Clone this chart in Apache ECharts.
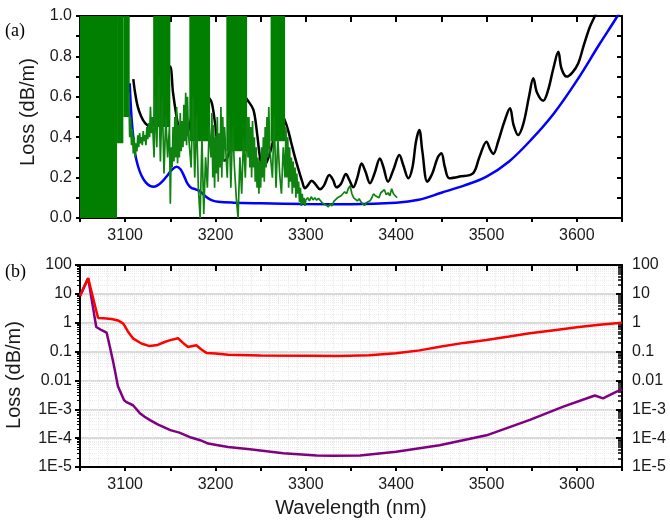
<!DOCTYPE html>
<html>
<head>
<meta charset="utf-8">
<script src="https://cdn.jsdelivr.net/npm/echarts@6/dist/echarts.min.js"></script>
<style>
html,body{margin:0;padding:0;background:#fff;}
#chart{width:670px;height:523px;}
</style>
</head>
<body>
<div id="chart"></div>
<script>
// ---------- DATA ----------
// Panel (a): linear loss (dB/m) vs wavelength (nm)
var blackSim = [[3109,0.688],[3111,0.62],[3114,0.55],[3118,0.5],[3122,0.47],[3126,0.455],[3129,0.452],[3133,0.5],[3138,0.6],[3144,0.7],[3149.6,0.75],[3153,0.62],[3157,0.5],[3161,0.42],[3165,0.405],[3168,0.41],[3172,0.47],[3175.4,0.568],[3180,0.63],[3186,0.62],[3192,0.6],[3196,0.568],[3200,0.45],[3203,0.34],[3206,0.295],[3210,0.285],[3215,0.32],[3220,0.42],[3226,0.55],[3232,0.6],[3236,0.58],[3242,0.535],[3246,0.42],[3250,0.28],[3253,0.26],[3257,0.28],[3262,0.35],[3267,0.45],[3271,0.51],[3275,0.5],[3280,0.44],[3284,0.37],[3288,0.3],[3292,0.238],[3296,0.18],[3299,0.147],[3302,0.16],[3306.5,0.185],[3311,0.165],[3315.7,0.142],[3320,0.16],[3326,0.213],[3330,0.19],[3334,0.152],[3339,0.17],[3344.4,0.218],[3348,0.19],[3352.5,0.152],[3357,0.2],[3361.8,0.27],[3366,0.23],[3371,0.172],[3376,0.22],[3382,0.295],[3386,0.25],[3391,0.18],[3397,0.24],[3403.5,0.312],[3408,0.26],[3413.4,0.197],[3418,0.25],[3422,0.38],[3425.6,0.436],[3429,0.33],[3434.5,0.18],[3440,0.22],[3446,0.3],[3450,0.32],[3454,0.25],[3458.8,0.197],[3470,0.205],[3485,0.221],[3492,0.3],[3500,0.378],[3504,0.34],[3507.5,0.317],[3513,0.38],[3520,0.48],[3526,0.543],[3530,0.46],[3535,0.411],[3541,0.47],[3547,0.6],[3551.8,0.692],[3556,0.62],[3562.8,0.581],[3568,0.63],[3574,0.74],[3579.5,0.823],[3583,0.74],[3588.7,0.7],[3595,0.72],[3601.6,0.766],[3608,0.86],[3614.5,0.947],[3620,1.0],[3625,1.05]];

var blueSim = [[3105,0.667],[3107,0.5],[3109,0.4],[3111,0.32],[3114,0.26],[3118,0.21],[3123,0.175],[3128,0.158],[3132,0.155],[3137,0.165],[3142,0.185],[3147,0.212],[3152,0.24],[3157,0.254],[3161,0.243],[3165,0.21],[3169,0.17],[3173,0.15],[3178,0.142],[3182,0.135],[3187,0.115],[3192,0.097],[3197,0.086],[3203,0.08],[3220,0.076],[3250,0.073],[3300,0.069],[3350,0.068],[3400,0.075],[3425,0.09],[3450,0.125],[3475,0.16],[3500,0.205],[3525,0.28],[3550,0.39],[3575,0.52],[3600,0.68],[3625,0.86],[3645,1.0],[3655,1.08]];

// saturated (oscillating 0..1) regions of the measured trace: [start, end, low, high]
var measuredBands = [[3050,3091,0,1],[3091,3098,0.37,1],[3098,3105,0.5,1],[3131,3150,0.45,1],[3171,3194,0.38,1],[3212,3235,0.33,1],[3261,3277,0.38,1]];

var measured = [[3104,0.62],[3105,0.4],[3106,0.5],[3107,0.36],[3108,0.44],[3109,0.32],[3110,0.4],[3111,0.3],[3112,0.37],[3113,0.33],[3114,0.41],[3115,0.35],[3116,0.42],[3117,0.37],[3118,0.4],[3119,0.36],[3120,0.43],[3121,0.38],[3122,0.41],[3123,0.36],[3124,0.45],[3125,0.39],[3126,0.47],[3127,0.4],[3128,0.55],[3129,0.42],[3130,0.5],
[3132,0.3],[3133,0.6],[3135,0.35],[3137,0.7],[3139,0.28],[3141,0.6],[3143,0.22],[3145,0.5],[3147,0.3],[3149,0.45],[3150,0.07],
[3151,0.35],[3152,0.25],[3153,0.45],[3154,0.28],[3155,0.5],[3156,0.3],[3157,0.55],[3158,0.27],[3159,0.46],[3160,0.3],[3161,0.52],[3162,0.33],[3163,0.48],[3164,0.35],[3165,0.56],[3166,0.38],[3167,0.62],[3168,0.36],[3169,0.6],[3170,0.42],
[3173,0.25],[3175,0.6],[3177,0.2],[3179,0.5],[3181,0.15],[3183,0.0],[3185,0.4],[3187,0.02],[3189,0.3],[3191,0.15],[3193,0.45],
[3195,0.3],[3196,0.52],[3197,0.2],[3198,0.46],[3199,0.15],[3200,0.4],[3201,0.22],[3202,0.5],[3203,0.18],[3204,0.42],[3205,0.25],[3206,0.55],[3207,0.2],[3208,0.5],[3209,0.28],[3210,0.45],
[3213,0.2],[3215,0.5],[3217,0.15],[3219,0.45],[3221,0.25],[3223,0.1],[3225,0.0],[3227,0.3],[3229,0.12],[3231,0.4],[3233,0.2],[3235,0.5],
[3236,0.3],[3237,0.5],[3238,0.25],[3239,0.45],[3240,0.2],[3241,0.48],[3242,0.25],[3243,0.4],[3244,0.18],[3245,0.35],[3246,0.15],[3247,0.3],[3248,0.12],[3249,0.28],[3250,0.15],[3251,0.35],[3252,0.2],[3253,0.4],[3254,0.18],[3255,0.45],[3256,0.25],[3257,0.5],[3258,0.3],[3259,0.55],[3260,0.35],
[3263,0.2],[3265,0.5],[3267,0.15],[3269,0.4],[3271,0.22],[3273,0.12],[3275,0.35],[3277,0.2],
[3278,0.45],[3279,0.2],[3280,0.4],[3281,0.15],[3282,0.35],[3283,0.18],[3284,0.3],[3285,0.12],[3286,0.28],[3287,0.15],[3288,0.25],[3289,0.1],[3290,0.22],[3291,0.12],[3292,0.18],[3293,0.08],[3294,0.15],[3295,0.06],[3296,0.12],[3297,0.07],[3298,0.1],[3299,0.06],[3300,0.09],
[3302,0.1],[3304,0.085],[3306,0.105],[3308,0.09],[3310,0.1],[3312,0.088],[3314,0.098],[3316,0.09],[3318,0.075],[3320,0.082],[3322,0.065],[3325,0.055],[3327,0.07],[3329,0.06],[3331,0.082],[3333,0.078],[3335,0.1],[3337,0.095],[3339,0.11],[3341,0.105],[3343,0.13],[3345,0.12],[3347,0.145],[3349,0.16],[3351,0.12],[3353,0.1],[3355,0.105],[3357,0.085],[3359,0.095],[3361,0.08],[3363,0.085],[3365,0.062],[3367,0.075],[3369,0.068],[3371,0.085],[3373,0.1],[3375,0.12],[3377,0.11],[3379,0.115],[3381,0.1],[3383,0.125],[3385,0.13],[3387,0.14],[3389,0.115],[3391,0.125],[3393,0.11],[3395,0.145],[3397,0.12],[3399,0.11],[3401,0.1]];

// Panel (b): log loss (dB/m)
var redLoss = [[3050,8.5],[3059,35],[3070,1.46],[3076,1.44],[3085,1.35],[3092,1.2],[3098,0.93],[3103,0.5],[3109,0.28],[3118,0.19],[3127,0.155],[3136,0.17],[3143,0.21],[3149,0.245],[3158.5,0.29],[3164,0.2],[3169.5,0.144],[3178.8,0.166],[3184,0.12],[3190,0.09],[3200,0.085],[3214,0.078],[3250,0.073],[3300,0.071],[3337,0.07],[3370,0.075],[3400,0.087],[3426,0.11],[3450,0.15],[3475,0.2],[3500,0.25],[3525,0.33],[3548,0.43],[3575,0.55],[3600,0.69],[3625,0.85],[3650,1.0]];

var purpleLoss = [[3050,8.5],[3059,35],[3068,0.71],[3074,0.55],[3079.5,0.45],[3083,0.15],[3087,0.04],[3092,0.0063],[3098.7,0.0021],[3101,0.0018],[3108.7,0.00138],[3116,0.00075],[3121.5,0.00055],[3127.5,0.00042],[3136,0.0003],[3150,0.00019],[3160,0.000155],[3173,0.000105],[3183,0.000085],[3192,0.000065],[3201,0.000058],[3214,0.000049],[3238,0.000041],[3275,0.00003],[3312,0.000025],[3330,0.0000245],[3360,0.000025],[3400,0.000034],[3448,0.000057],[3500,0.000125],[3548,0.00043],[3585,0.00123],[3620,0.003],[3629,0.0024],[3644,0.0041],[3650,0.0048]];

var xTicksLabelled = [3100,3200,3300,3400,3500,3600];
var linTickLabels = ['0.0','0.2','0.4','0.6','0.8','1.0'];
var logTickLabels = {'2':'100','1':'10','0':'1','-1':'0.1','-2':'0.01','-3':'1E-3','-4':'1E-4','-5':'1E-5'};

// ---------- CHART ----------
var FONT = '"Liberation Sans", Arial, sans-serif';
var chart = echarts.init(document.getElementById('chart'), null, {renderer:'canvas'});

function xLab(v){ return xTicksLabelled.indexOf(Math.round(v)) >= 0 ? String(Math.round(v)) : ''; }
function linLab(v){ var k = Math.round(v*10); return (k % 2 === 0) ? linTickLabels[k/2] : ''; }
function logLab(v){ var e = Math.round(Math.log10(v)); var s = logTickLabels[String(e)]; return s === undefined ? '' : s; }

var axisLineStyle = {color:'#000', width:2};
var labelStyle = {color:'#1a1a1a', fontFamily:FONT, fontSize:16};

var xBase = {type:'value', min:3050, max:3650, interval:50};

var bandAreas = measuredBands.map(function(b){
  return [{xAxis:b[0], yAxis:b[2]}, {xAxis:b[1], yAxis:b[3]}];
});

var option = {
  backgroundColor:'#fff',
  animation:false,
  grid:[
    {left:80, right:48, top:16, height:202},
    {left:80, right:48, top:265, height:202}
  ],
  xAxis:[
    Object.assign({}, xBase, {gridIndex:0, position:'bottom',
      axisLine:{show:true, onZero:false, lineStyle:axisLineStyle},
      axisTick:{show:true, inside:false, length:4, lineStyle:{width:2,color:'#000'}},
      axisLabel:Object.assign({interval:0, margin:10, formatter:xLab}, labelStyle),
      splitLine:{show:false}}),
    Object.assign({}, xBase, {gridIndex:0, position:'top',
      axisLine:{show:true, onZero:false, lineStyle:axisLineStyle},
      axisTick:{show:true, inside:true, length:6, lineStyle:{width:2,color:'#000'}},
      axisLabel:{show:false}, splitLine:{show:false}}),
    Object.assign({}, xBase, {gridIndex:1, position:'bottom',
      axisLine:{show:true, onZero:false, lineStyle:axisLineStyle},
      axisTick:{show:true, inside:false, length:4, lineStyle:{width:2,color:'#000'}},
      axisLabel:Object.assign({interval:0, margin:10, formatter:xLab}, labelStyle),
      splitLine:{show:false},
      minorTick:{show:false},
      minorSplitLine:{show:true, lineStyle:{color:'#e8e8e8', width:1, type:'dotted'}}}),
    Object.assign({}, xBase, {gridIndex:1, position:'top',
      axisLine:{show:true, onZero:false, lineStyle:axisLineStyle},
      axisTick:{show:true, inside:true, length:6, lineStyle:{width:2,color:'#000'}},
      axisLabel:{show:false}, splitLine:{show:false}})
  ],
  yAxis:[
    {type:'value', gridIndex:0, position:'left', min:0, max:1, interval:0.1,
      axisLine:{show:true, onZero:false, lineStyle:axisLineStyle},
      axisTick:{show:true, inside:false, length:4, lineStyle:{width:2,color:'#000'}},
      axisLabel:Object.assign({interval:0, margin:8, formatter:linLab}, labelStyle),
      splitLine:{show:false}},
    {type:'value', gridIndex:0, position:'right', min:0, max:1, interval:0.1,
      axisLine:{show:true, onZero:false, lineStyle:axisLineStyle},
      axisTick:{show:true, inside:true, length:5, lineStyle:{width:2,color:'#000'}},
      axisLabel:{show:false}, splitLine:{show:false}},
    {type:'log', logBase:10, gridIndex:1, position:'left', min:1e-5, max:100, splitNumber:7,
      axisLine:{show:true, onZero:false, lineStyle:axisLineStyle},
      axisTick:{show:true, inside:false, length:5, lineStyle:{width:2,color:'#000'}},
      minorTick:{show:true, splitNumber:9, length:3, lineStyle:{color:'#000', width:1}},
      axisLabel:Object.assign({interval:0, margin:8, formatter:logLab}, labelStyle),
      splitLine:{show:true, lineStyle:{color:'#d9d9d9', width:2}},
      minorSplitLine:{show:true, lineStyle:{color:'#ececec', width:1, type:'dotted'}}},
    {type:'log', logBase:10, gridIndex:1, position:'right', min:1e-5, max:100, splitNumber:7,
      axisLine:{show:true, onZero:false, lineStyle:axisLineStyle},
      axisTick:{show:true, inside:true, length:6, lineStyle:{width:2,color:'#000'}},
      minorTick:{show:true, splitNumber:9, length:4, lineStyle:{color:'#000', width:1.5}},
      axisLabel:Object.assign({interval:0, margin:10, formatter:logLab}, labelStyle),
      splitLine:{show:false}}
  ],
  series:[
    {type:'line', name:'sim-black', xAxisIndex:0, yAxisIndex:0, data:blackSim, showSymbol:false, smooth:0.35,
      lineStyle:{color:'#000', width:2.5}, z:2},
    {type:'line', name:'sim-blue', xAxisIndex:0, yAxisIndex:0, data:blueSim, showSymbol:false, smooth:0.35,
      lineStyle:{color:'#0000ff', width:2.5}, z:3},
    {type:'line', name:'measured', xAxisIndex:0, yAxisIndex:0, data:measured, showSymbol:false,
      lineStyle:{color:'#0f830f', width:1.7}, z:5,
      markArea:{silent:true, z:5, itemStyle:{color:'#007f00', opacity:1, borderWidth:0}, label:{show:false},
        data:bandAreas}},
    {type:'line', name:'purple', xAxisIndex:2, yAxisIndex:2, data:purpleLoss, showSymbol:false,
      lineStyle:{color:'#800080', width:2.5}, z:3},
    {type:'line', name:'red', xAxisIndex:2, yAxisIndex:2, data:redLoss, showSymbol:false,
      lineStyle:{color:'#ff0000', width:2.5}, z:4}
  ],
  graphic:[
    {type:'text', left:5, top:22, style:{text:'(a)', font:'18px "Liberation Serif", "Times New Roman", serif', fill:'#000'}},
    {type:'text', left:5, top:263, style:{text:'(b)', font:'18px "Liberation Serif", "Times New Roman", serif', fill:'#000'}},
    {type:'text', x:28, y:112, rotation:Math.PI/2, style:{text:'Loss (dB/m)', font:'20px '+FONT, fill:'#1a1a1a', textAlign:'center', textVerticalAlign:'middle'}},
    {type:'text', x:14, y:375, rotation:Math.PI/2, style:{text:'Loss (dB/m)', font:'20px '+FONT, fill:'#1a1a1a', textAlign:'center', textVerticalAlign:'middle'}},
    {type:'text', x:351, y:508, style:{text:'Wavelength (nm)', font:'20px '+FONT, fill:'#1a1a1a', textAlign:'center', textVerticalAlign:'middle'}}
  ]
};
chart.setOption(option);
</script>
</body>
</html>
